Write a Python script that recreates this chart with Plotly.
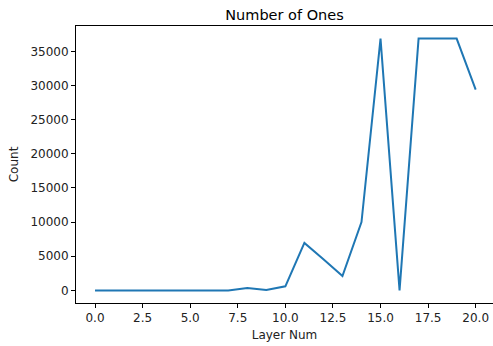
import plotly.graph_objects as go

layer_num = list(range(21))
count = [0, 0, 0, 0, 0, 0, 0, 0, 350, 50, 600, 6950, 4550, 2100, 10000,
         36864, 0, 36864, 36864, 36864, 29400]

x_ticks = [0, 2.5, 5, 7.5, 10, 12.5, 15, 17.5, 20]
y_ticks = [0, 5000, 10000, 15000, 20000, 25000, 30000, 35000]

fig = go.Figure(go.Scatter(x=layer_num, y=count, mode="lines",
                           line=dict(color="#1f77b4", width=2)))

axis_common = dict(showline=True, linecolor="#000000", linewidth=1,
                   ticks="outside", ticklen=4, tickcolor="#000000", showgrid=False,
                   zeroline=False, automargin=False,
                   tickfont=dict(size=12, color="#222222"))

fig.update_layout(
    width=493, height=346,
    margin=dict(l=76, r=0, t=26, b=43),
    paper_bgcolor="white", plot_bgcolor="white",
    font=dict(family="DejaVu Sans", color="#222222"),
    title=dict(text="Number of Ones", x=0.5, xanchor="center", xref="paper",
               y=1 - 15 / 346, yref="container", yanchor="middle",
               font=dict(size=14.5, color="#000000")),
    showlegend=False,
    xaxis=dict(range=[-1, 20.91], tickvals=x_ticks, mirror=True,
               ticktext=[f"{v:.1f}" for v in x_ticks],
               title=dict(text="Layer Num", font=dict(size=12), standoff=6),
               **axis_common),
    yaxis=dict(range=[-1843, 38707], tickvals=y_ticks, mirror=False,
               ticktext=[str(v) for v in y_ticks],
               title=dict(text="Count", font=dict(size=12), standoff=9),
               **axis_common),
)

fig.write_html("out.html",
               config={"displayModeBar": False},
               post_script="document.body.style.margin='0';document.body.style.overflow='hidden';")
